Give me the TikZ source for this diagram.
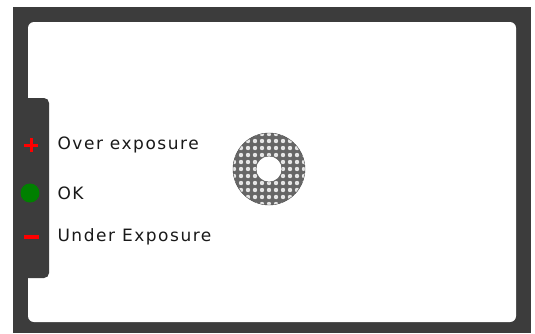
\documentclass[tikz,border=0pt]{standalone}
\usepackage{fontspec}
\setmainfont[LetterSpace=9]{DejaVu Sans}
\usepackage{xcolor}
\usetikzlibrary{calc}
\definecolor{framegray}{HTML}{3C3C3C}
\definecolor{okgreen}{HTML}{008000}

\begin{document}
\begin{tikzpicture}[x=1pt, y=-1pt, every node/.style={font=\fontsize{17}{20}\selectfont, text=black!90}]
    \useasboundingbox (0,0) rectangle (535,333);
    % camera frame
    \fill[framegray] (13,7) rectangle (531,333);
    \fill[white, rounded corners=6pt] (28,22) rectangle (516,322);
    \fill[framegray, rounded corners=5pt] (13,98) -| (49,278) -- (13,278) -- cycle;
    % exposure marks
    \draw[red, line width=3pt] (24,145) -- (38,145) (31,138) -- (31,152);
    \fill[okgreen] (30,193) circle (9.5);
    \draw[red, line width=3.5pt] (24,237) -- (39,237);
    \node[anchor=west] (over) at (54,145) {Over exposure};
    \node[anchor=west] (ok) at (54,193) {OK};
    \node[anchor=west] (under) at (54,237) {Under Exposure};
    % metering ring
    \coordinate (ring) at (269,169);
    \begin{scope}
      \clip (ring) circle (36);
      \fill[black!60] (ring) circle (36);
      \foreach \i in {-6,...,6}
        \foreach \j in {-6,...,6}
          \fill[white!80!gray] ($(ring)+(7*\i,7*\j)$) circle (2.2);
    \end{scope}
    \fill[white] (ring) circle (13);
    \draw[black!70, thin] (ring) circle (36) (ring) circle (13);
\end{tikzpicture}
\end{document}
